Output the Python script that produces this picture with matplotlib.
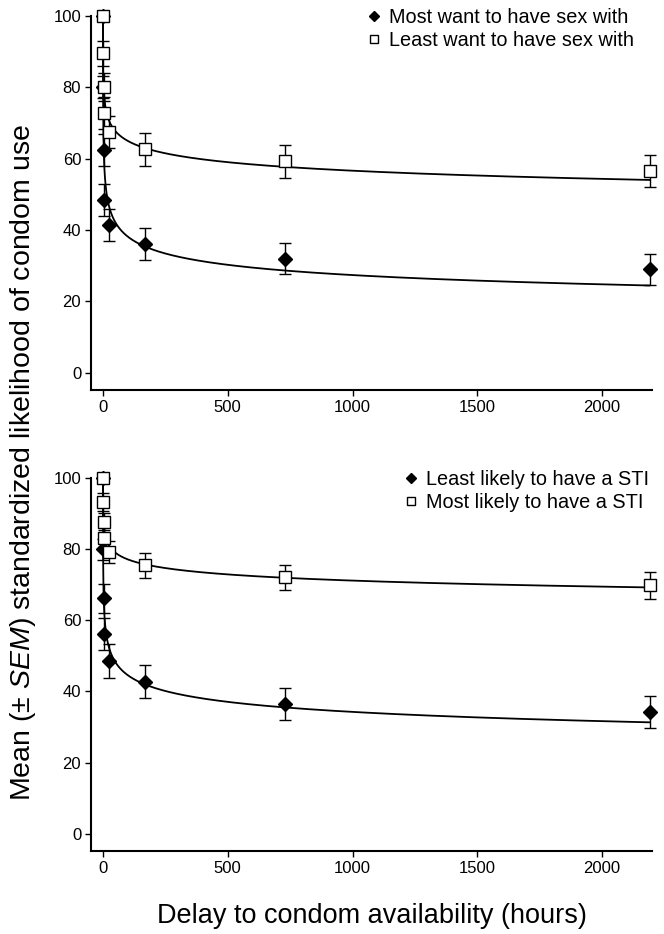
import numpy as np
import matplotlib
matplotlib.use('Agg')
import matplotlib.pyplot as plt

plt.rcParams['font.family'] = ['Liberation Sans', 'DejaVu Sans']
plt.rcParams['mathtext.fontset'] = 'custom'
plt.rcParams['mathtext.rm'] = 'Liberation Sans'
plt.rcParams['mathtext.it'] = 'Liberation Sans:italic'

# delays in hours
delays = [0, 1, 3, 6, 24, 168, 730, 2190]

# top panel: partner desirability
most_want = [100, 80, 62.4, 48.5, 41.5, 36.0, 32.0, 29.0]
most_want_err = [0, 3.0, 4.5, 4.5, 4.5, 4.5, 4.3, 4.3]
least_want = [100, 89.5, 80.0, 72.7, 67.4, 62.6, 59.2, 56.6]
least_want_err = [0, 3.5, 4.0, 4.5, 4.5, 4.6, 4.5, 4.5]

# bottom panel: STI likelihood
least_sti = [100, 79.9, 66.1, 56.0, 48.6, 42.7, 36.5, 34.3]
least_sti_err = [0, 3.0, 4.1, 4.5, 4.7, 4.6, 4.5, 4.5]
most_sti = [100, 93.1, 87.7, 83.1, 79.1, 75.4, 72.0, 69.8]
most_sti_err = [0, 2.5, 2.5, 3.0, 3.0, 3.6, 3.6, 3.8]

xticks = [0, 500, 1000, 1500, 2000]
yticks = [0, 20, 40, 60, 80, 100]


def fitHyperboloid(x, y):
    # least squares fit of V = 100 / (1 + k*D)^s by grid search
    x = np.asarray(x, float)
    y = np.asarray(y, float)
    best = None
    for k in np.logspace(-3, 2, 300):
        for s in np.linspace(0.02, 1.5, 300):
            pred = 100 / (1 + k * x) ** s
            err = np.sum((pred - y) ** 2)
            if best is None or err < best[0]:
                best = (err, k, s)
    return best[1], best[2]


def drawPanel(ax, series, labels, legend_x):
    xs = np.linspace(0, max(delays), 3000)
    for vals, errs, marker, face, size in series:
        k, s = fitHyperboloid(delays, vals)
        ax.plot(xs, 100 / (1 + k * xs) ** s, color='black', lw=1.3, zorder=2)
    handles = []
    for vals, errs, marker, face, size in series:
        ax.errorbar(delays, vals, yerr=errs, fmt='none', ecolor='black',
                    elinewidth=1.0, capsize=4.5, capthick=1.0, zorder=3, clip_on=False)
        h, = ax.plot(delays, vals, linestyle='none', marker=marker, ms=size,
                     mfc=face, mec='black', mew=1.0, zorder=4, clip_on=False)
        handles.append(h)
    ax.set_xlim(-48, 2200)
    ax.set_ylim(-4.8, 100)
    ax.set_xticks(xticks)
    ax.set_yticks(yticks)
    for side in ['top', 'right']:
        ax.spines[side].set_visible(False)
    for side in ['left', 'bottom']:
        ax.spines[side].set_linewidth(1.5)
    ax.tick_params(direction='out', length=4, width=1.0, labelsize=12, pad=3)
    ax.legend(handles, labels, loc='upper right', bbox_to_anchor=(legend_x, 1.02),
              frameon=False, fontsize=14.3, handlelength=0.6, handletextpad=0.45,
              labelspacing=0.2, borderaxespad=0.0, borderpad=0.0, markerscale=0.72)


fig = plt.figure(figsize=(6.64, 9.34), dpi=100)
ax1 = fig.add_axes([0.137, 0.5824, 0.845, 0.4008])
ax2 = fig.add_axes([0.137, 0.0889, 0.845, 0.3996])

drawPanel(ax1, [(most_want, most_want_err, 'D', 'black', 7),
                (least_want, least_want_err, 's', 'white', 8)],
          ['Most want to have sex with', 'Least want to have sex with'], 0.968)
drawPanel(ax2, [(least_sti, least_sti_err, 'D', 'black', 7),
                (most_sti, most_sti_err, 's', 'white', 8)],
          ['Least likely to have a STI', 'Most likely to have a STI'], 0.995)

fig.text(0.5 * (0.137 + 0.982), 0.012, 'Delay to condom availability (hours)',
         ha='center', va='baseline', fontsize=19.5)
fig.text(0.035, 0.505, r'Mean (± $\it{SEM}$) standardized likelihood of condom use',
         ha='center', va='center', rotation=90, fontsize=20.5)

fig.savefig('out.png', dpi=100)
